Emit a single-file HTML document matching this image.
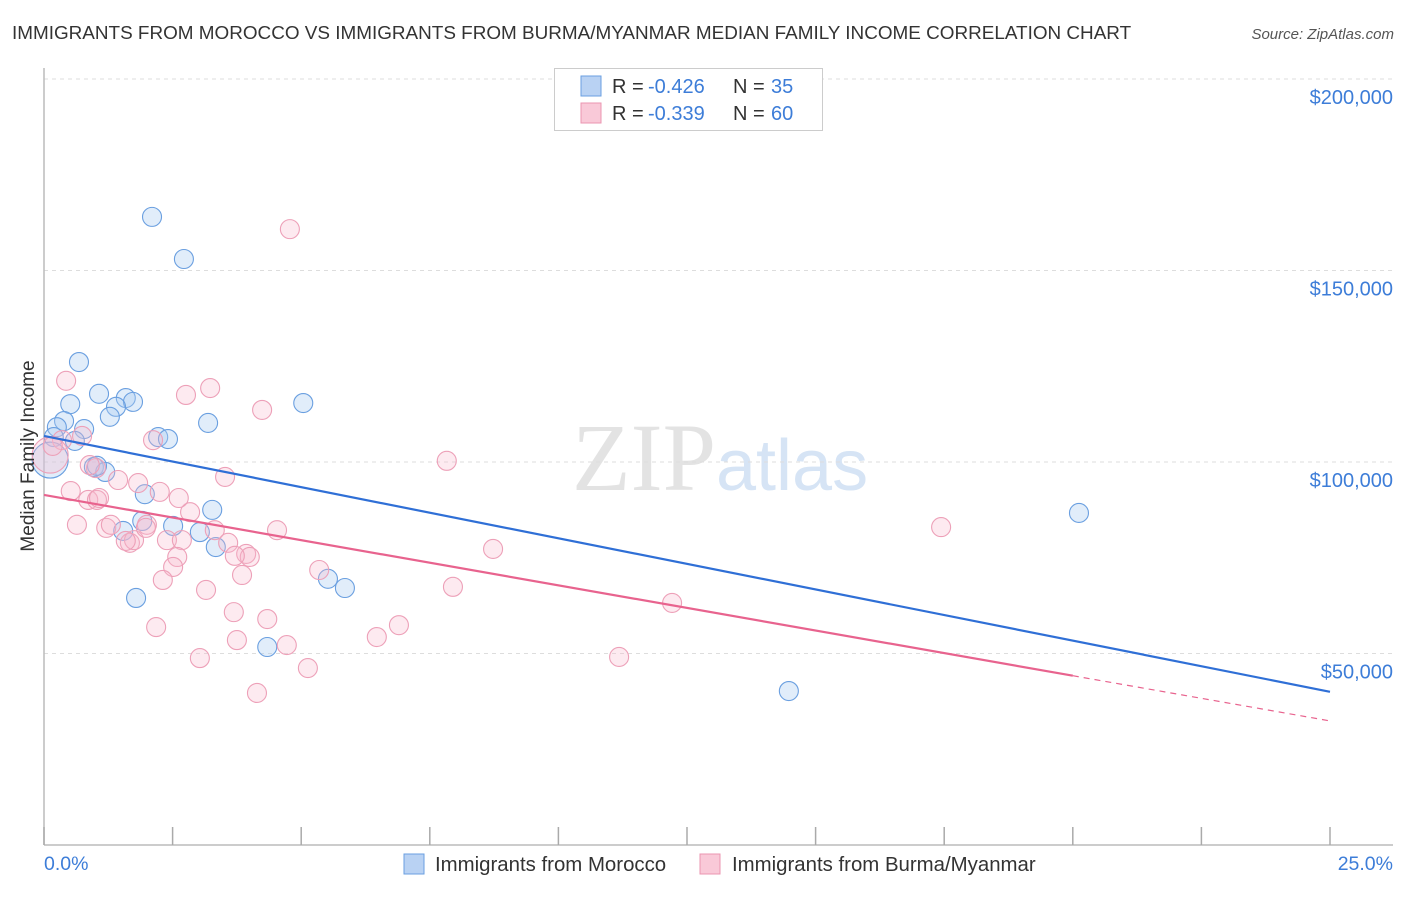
<!DOCTYPE html>
<html><head><meta charset="utf-8"><style>
body{margin:0;background:#fff;font-family:"Liberation Sans",sans-serif}
</style></head><body>
<svg width="1406" height="892" viewBox="0 0 1406 892" xmlns="http://www.w3.org/2000/svg">
<text x="12" y="39" font-size="18.9" fill="#333">IMMIGRANTS FROM MOROCCO VS IMMIGRANTS FROM BURMA/MYANMAR MEDIAN FAMILY INCOME CORRELATION CHART</text>
<text x="1394" y="39" font-size="15" fill="#555" text-anchor="end" font-style="italic">Source: ZipAtlas.com</text>
<text x="716" y="490" font-size="96" fill="#e3e3e3" text-anchor="end" font-family="Liberation Serif,serif">ZIP</text>
<text x="716" y="490" font-size="72" fill="#d6e4f5">atlas</text>
<g id="grid"></g>
<line x1="44" y1="68" x2="44" y2="845" stroke="#bbb" stroke-width="1.5"/>
<line x1="44" y1="845" x2="1393" y2="845" stroke="#bbb" stroke-width="1.5"/>
<g id="ticks"></g>
<g id="pts"></g>
<g id="lines"></g>
<text x="34" y="456" font-size="19" fill="#333" text-anchor="middle" transform="rotate(-90 34 456)">Median Family Income</text>
<text x="44" y="870" font-size="19.5" fill="#3d7dd8">0.0%</text>
<text x="1393" y="870" font-size="19.5" fill="#3d7dd8" text-anchor="end">25.0%</text>
<g>
<rect x="554.5" y="68.5" width="268" height="62" fill="#fff" stroke="#ccc"/>
<rect x="581" y="76" width="20" height="20" fill="#b9d2f3" stroke="#6a9fe0"/>
<rect x="581" y="103" width="20" height="20" fill="#f9c9d8" stroke="#eb95b0"/>
<text x="612" y="93" font-size="20" fill="#333">R =</text>
<text x="648" y="93" font-size="20" fill="#3d7dd8">-0.426</text>
<text x="733" y="93" font-size="20" fill="#333">N =</text>
<text x="771" y="93" font-size="20" fill="#3d7dd8">35</text>
<text x="612" y="120" font-size="20" fill="#333">R =</text>
<text x="648" y="120" font-size="20" fill="#3d7dd8">-0.339</text>
<text x="733" y="120" font-size="20" fill="#333">N =</text>
<text x="771" y="120" font-size="20" fill="#3d7dd8">60</text>
</g>
<g>
<rect x="404" y="854" width="20" height="20" fill="#b9d2f3" stroke="#6a9fe0"/>
<text x="435" y="871" font-size="20.4" fill="#333">Immigrants from Morocco</text>
<rect x="700" y="854" width="20" height="20" fill="#f9c9d8" stroke="#eb95b0"/>
<text x="732" y="871" font-size="20.4" fill="#333">Immigrants from Burma/Myanmar</text>
</g>
</svg>
<script>
const yTicks=[50000,100000,150000,200000];
const yTickLabels=["$50,000","$100,000","$150,000","$200,000"];
const xTicks=[0,2.5,5,7.5,10,12.5,15,17.5,20,22.5,25];
const moroccoX=[2.10,2.72,0.68,1.07,0.51,1.59,1.73,1.40,1.28,0.39,0.25,0.78,5.04,3.19,2.22,2.41,0.60,0.19,0.97,1.19,1.96,3.27,1.91,2.51,3.03,3.34,1.54,5.52,5.85,1.79,4.34,14.48,20.12,0.12,1.03];
const moroccoY=[164.0,153.0,126.1,117.8,115.1,116.7,115.7,114.4,111.8,110.7,109.1,108.6,115.4,110.2,106.5,106.0,105.5,106.5,98.7,97.4,91.6,87.5,84.6,83.3,81.7,77.8,82.0,69.5,67.1,64.5,51.7,40.2,86.7,100.5,99.0];
const burmaX=[4.78,0.43,3.23,2.76,4.24,7.83,0.74,2.12,0.35,0.12,3.52,0.52,2.25,1.44,0.86,1.03,1.83,0.64,1.21,1.30,2.00,2.39,2.68,2.84,3.32,3.58,4.53,1.67,1.75,3.93,2.59,2.51,3.85,5.35,2.31,3.15,7.95,8.73,12.21,17.44,3.69,4.34,2.18,3.75,6.47,6.90,4.72,3.03,5.13,11.18,4.14,1.01,0.17,0.89,1.59,4.00,1.98,3.71,2.62,1.07];
const burmaY=[160.8,121.2,119.3,117.5,113.6,100.3,106.8,105.7,105.7,101.8,96.1,92.4,92.2,95.3,90.1,90.1,94.5,83.6,82.8,83.6,83.6,79.6,79.6,86.9,82.2,78.9,82.2,78.9,79.6,76.0,75.2,72.6,70.5,71.8,69.2,66.6,67.4,77.3,63.2,83.0,60.8,59.0,56.9,53.5,54.3,57.4,52.2,48.8,46.2,49.1,39.7,98.4,104.2,99.2,79.4,75.2,82.8,75.5,90.6,90.6];
const moroccoTrend=[106.8,40.0];
const burmaTrend=[91.4,32.4];
const NS="http://www.w3.org/2000/svg";
const sx=v=>44+v/25*1286;
const sy=v=>845-v/50000*191.5;
const syk=v=>sy(v*1000);
function mk(t,a,p){const e=document.createElementNS(NS,t);for(const k in a)e.setAttribute(k,a[k]);document.getElementById(p).appendChild(e);return e;}
yTicks.forEach((v,i)=>{
 const l=mk('line',{x1:44,x2:1393,y1:sy(v),y2:sy(v),stroke:'#ddd','stroke-dasharray':'4,4'},'grid');
 
 
 const t=mk('text',{x:1393,y:sy(v)+25,'font-size':20,fill:'#3d7dd8','text-anchor':'end'},'grid');
 t.textContent=yTickLabels[i];
 
 
});
xTicks.forEach(v=>{
 const l=mk('line',{x1:sx(v),x2:sx(v),y1:827,y2:845,stroke:'#aaa','stroke-width':1.5},'ticks');
 
 
});
moroccoX.forEach((x,i)=>{
 const big=i===moroccoX.length-2;
 const c=mk('circle',{cx:sx(x),cy:syk(moroccoY[i]),r:big?18:9.5,fill:'rgba(170,202,242,0.35)',stroke:'#6a9fe0','stroke-width':1.1},'pts');
 
 
});
burmaX.forEach((x,i)=>{
 const big=i===9;
 const c=mk('circle',{cx:sx(x),cy:syk(burmaY[i]),r:big?18:9.5,fill:'rgba(248,185,205,0.3)',stroke:'#eda0b8','stroke-width':1.1},'pts');
 
 
});
const bl=mk('line',{x1:sx(0),y1:syk(moroccoTrend[0]),x2:sx(25),y2:syk(moroccoTrend[1]),stroke:'#2f6fd6','stroke-width':2.2},'lines');


const pm=v=>burmaTrend[0]+(burmaTrend[1]-burmaTrend[0])*v/25;
const pl=mk('line',{x1:sx(0),y1:syk(pm(0)),x2:sx(20),y2:syk(pm(20)),stroke:'#e8638e','stroke-width':2.2},'lines');


const pd=mk('line',{x1:sx(20),y1:syk(pm(20)),x2:sx(25),y2:syk(pm(25)),stroke:'#e8638e','stroke-width':1.2,'stroke-dasharray':'6,5'},'lines');


</script>
</body></html>
